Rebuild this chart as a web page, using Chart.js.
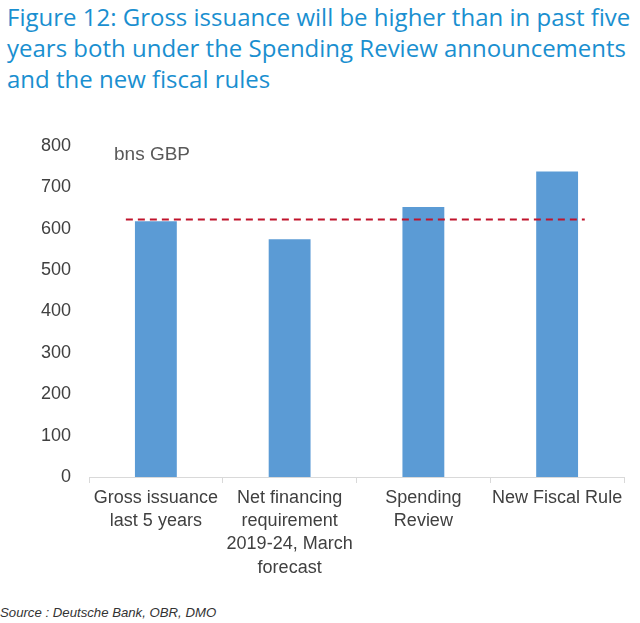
<!DOCTYPE html>
<html>
<head>
<meta charset="utf-8">
<script src="https://cdn.jsdelivr.net/npm/chart.js@4/dist/chart.umd.min.js"></script>
<style>
  html, body { margin:0; padding:0; background:#fff; }
  body { width:640px; height:623px; position:relative; overflow:hidden; font-family:"Liberation Sans", Arial, sans-serif; }
  #title { position:absolute; left:7px; top:1px; width:640px; white-space:nowrap; color:#1a8fd0; font-family:"Open Sans", sans-serif; font-size:24px; line-height:31px; }
  #unit { position:absolute; left:114px; top:143px; color:#595959; font-size:19px; }
  #source { position:absolute; left:0; top:605px; font-size:13.2px; font-style:italic; color:#333; }
  #wrap { position:absolute; left:0; top:125px; width:640px; height:470px; }
</style>
</head>
<body>
<div id="title">Figure 12: Gross issuance will be higher than in past five<br>years both under the Spending Review announcements<br>and the new fiscal rules</div>
<div id="wrap"><canvas id="c"></canvas></div>
<div id="unit">bns GBP</div>
<div id="source">Source : Deutsche Bank, OBR, DMO</div>
<script>
// data
const categories = [
  ['Gross issuance', 'last 5 years'],
  ['Net financing', 'requirement', '2019-24, March', 'forecast'],
  ['Spending', 'Review'],
  'New Fiscal Rule'
];
const issuance = [618, 574, 652, 738];
const pastFiveYears = 622; // red dashed reference line
const refLineSpan = [-0.44, 3.42]; // in category units
const yTicks = [0, 100, 200, 300, 400, 500, 600, 700, 800];

const ctx = document.getElementById('c').getContext('2d');
new Chart(ctx, {
  type: 'bar',
  data: {
    labels: categories,
    datasets: [
      {
        type: 'line',
        data: refLineSpan.map(x => ({ x, y: pastFiveYears })),
        xAxisID: 'x2',
        borderColor: '#c0142c',
        borderWidth: 2,
        borderDash: [7, 5],
        pointRadius: 0,
        fill: false,
        order: 0
      },
      {
        data: issuance,
        backgroundColor: '#5b9bd5',
        grouped: false,
        barPercentage: 0.313,
        categoryPercentage: 1,
        order: 1
      }
    ]
  },
  options: {
    responsive: true,
    maintainAspectRatio: false,
    animation: false,
    layout: { padding: { top: 3, right: 16, left: 0, bottom: 0 } },
    plugins: { legend: { display: false }, tooltip: { enabled: false } },
    scales: {
      x: {
        offset: true,
        grid: { display: true, drawOnChartArea: false, offset: true, color: '#d9d9d9', tickLength: 6 },
        border: { display: true, color: '#d9d9d9', width: 1 },
        ticks: { color: '#404040', font: { size: 18, family: 'Liberation Sans', lineHeight: 1.3 }, padding: 3, maxRotation: 0, autoSkip: false },
        afterFit: s => { s.height = 118; }
      },
      x2: {
        type: 'linear', display: false, min: -0.5, max: 3.5
      },
      y: {
        min: 0, max: 800,
        afterBuildTicks: s => { s.ticks = yTicks.map(v => ({ value: v })); },
        grid: { display: false },
        border: { display: false },
        ticks: { color: '#404040', font: { size: 18, family: 'Liberation Sans' }, padding: 10 },
        afterFit: s => { s.width = 89; }
      }
    }
  }
});
</script>
</body>
</html>
